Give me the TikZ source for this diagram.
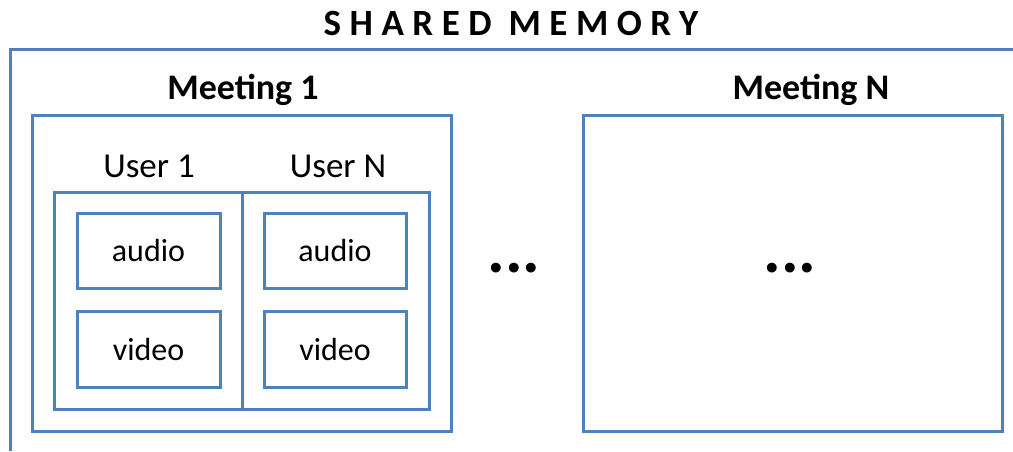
\documentclass[tikz,border=0pt]{standalone}
\usepackage{fontspec}
\setmainfont{Carlito}
\begin{document}
\begin{tikzpicture}[x=1pt,y=-1pt,
  frame/.style={draw=memblue,line width=3pt},
  box/.style={frame,rectangle,inner sep=0pt,outer sep=0pt,font=\fontsize{32}{36}\selectfont},
  heading/.style={font=\bfseries\fontsize{36}{40}\selectfont,inner sep=0pt},
  userlbl/.style={font=\fontsize{35}{38}\selectfont,inner sep=0pt},
  dots/.style={font=\bfseries\fontsize{66}{66}\selectfont,inner sep=0pt}]
\definecolor{memblue}{HTML}{4F81BD}
\useasboundingbox (0,0) rectangle (1013,451);

% shared memory region (open at right and bottom)
\coordinate (smA) at (10,451);
\coordinate (smB) at (10,49);
\coordinate (smC) at (1013,49);
\draw[frame,line join=miter] (smA) -- (smB) -- (smC);
\node[font=\bfseries\fontsize{37}{40}\selectfont\addfontfeature{LetterSpace=23},inner sep=0pt] (title) at (511,23) {SHARED MEMORY};

% meeting 1
\node[box,minimum width=419,minimum height=316] (m1) at (241.5,273) {};
\node[heading] (m1lbl) at (243,90) {Meeting 1};

% users container with divider
\node[box,minimum width=375,minimum height=217] (users) at (241.5,300.5) {};
\coordinate (divT) at (242,192);
\coordinate (divB) at (242,409);
\draw[frame] (divT) -- (divB);
\node[userlbl] (u1lbl) at (149,166) {User 1};
\node[userlbl] (unlbl) at (338,166) {User N};

\node[box,minimum width=143,minimum height=75] (a1) at (148.5,250.5) {audio};
\node[box,minimum width=143,minimum height=76] (v1) at (148.5,349) {video};
\node[box,minimum width=142,minimum height=75] (an) at (335,250.5) {audio};
\node[box,minimum width=142,minimum height=76] (vn) at (335,349) {video};

% ellipsis between meetings
\node[dots] (gap) at (514,268) {...};

% meeting N
\node[box,minimum width=419,minimum height=316] (mn) at (792.5,273) {};
\node[heading] (mnlbl) at (811,90) {Meeting N};
\node[dots] (mndots) at (790,268) {...};
\end{tikzpicture}
\end{document}
